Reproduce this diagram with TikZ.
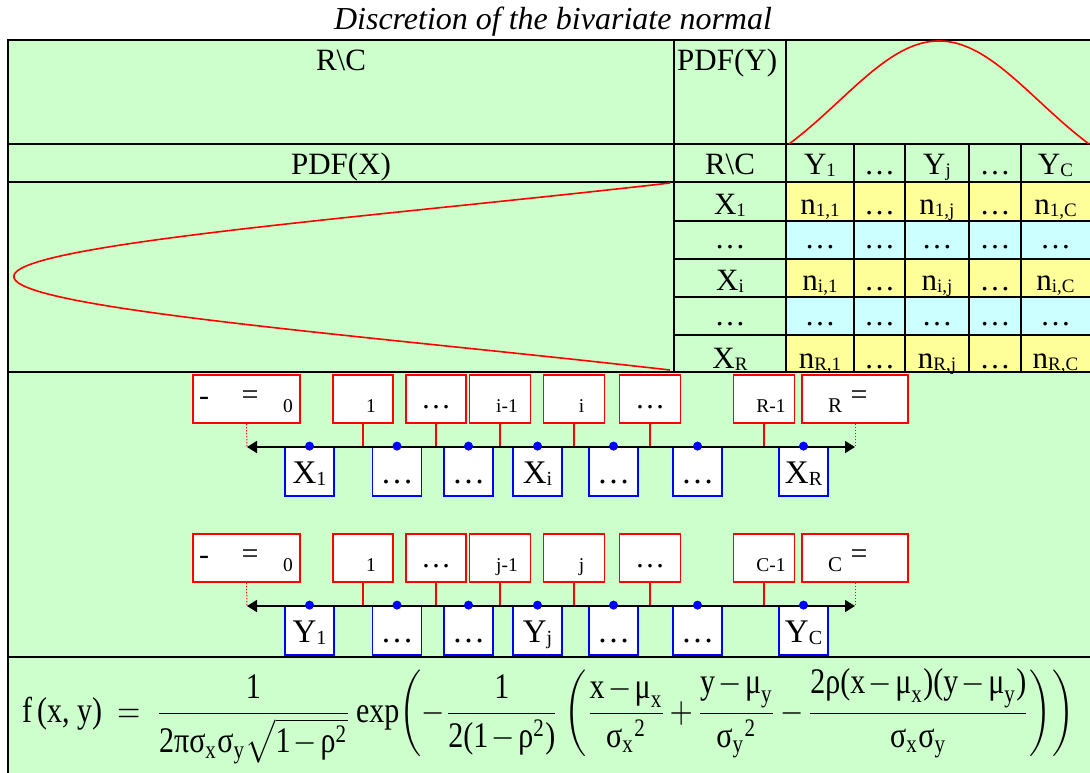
\documentclass[tikz,border=0pt]{standalone}
\usepackage{amsmath}
\usepackage{graphicx}
\usepackage{fontspec}
\setmainfont{Liberation Serif}
\usetikzlibrary{arrows.meta}
\definecolor{bg}{HTML}{CCFFCC}
\definecolor{ylw}{HTML}{FFFF99}
\definecolor{cyn}{HTML}{CCFFFF}
\definecolor{rd}{HTML}{FF0000}
\definecolor{bl}{HTML}{0000FF}
\newcommand{\sbt}[1]{\raisebox{-2pt}{\fontsize{19}{19}\selectfont #1}}
\newcommand{\sbb}[1]{\raisebox{-2pt}{\fontsize{20}{20}\selectfont #1}}
\newcommand{\tm}[1]{\text{#1}}
\tikzset{
 tline/.style={line width=2pt},
 ttxt/.style={font=\fontsize{31}{31}\selectfont, anchor=base, inner sep=0pt},
 redbox/.style={draw=rd, line width=1.8pt, fill=white, minimum height=48pt, inner sep=0pt},
 bluebox/.style={draw=bl, line width=1.8pt, fill=white, minimum width=49pt, minimum height=49pt, inner sep=0pt, text height=24pt, text depth=0pt, font=\fontsize{33}{33}\selectfont},
 smalltxt/.style={font=\fontsize{19.5}{20}\selectfont, anchor=base, inner sep=0pt},
 bigtxt/.style={font=\fontsize{30}{30}\selectfont, inner sep=0pt},
 conn/.style={draw=rd, line width=2pt},
 dotconn/.style={draw=rd, line width=1pt, dash pattern=on 1.5pt off 1.5pt},
 axisline/.style={line width=1.6pt, {Triangle[length=10pt,width=12pt]}-{Triangle[length=10pt,width=12pt]}},
 bdot/.style={circle, fill=bl, inner sep=0pt, minimum size=9pt},
 curve/.style={draw=rd, line width=1.6pt},
}
\begin{document}
\begin{tikzpicture}[x=1pt,y=-1pt]
\useasboundingbox (0,0) rectangle (1090,772);
\fill[white] (0,0) rectangle (1090,772);
\fill[bg] (8,40) rectangle (1092,774);
% coloured cells
\fill[ylw] (786,182) rectangle (1092,221);
\fill[cyn] (786,221) rectangle (1092,259);
\fill[ylw] (786,259) rectangle (1092,297);
\fill[cyn] (786,297) rectangle (1092,335);
\fill[ylw] (786,335) rectangle (1092,372);
% title
\node[font=\fontsize{32}{32}\selectfont\itshape, anchor=base, inner sep=0pt] (title) at (553,29) {Discretion of the bivariate normal};
% grid
\draw[tline, line width=2.4pt] (1092,40) -- (8,40) -- (8,774);
\draw[tline] (8,144) -- (1092,144);
\draw[line width=1.2pt] (8,182) -- (674,182);
\draw[tline] (674,182) -- (1092,182);
\foreach \yy in {221,259,297,335} \draw[tline] (674,\yy) -- (1092,\yy);
\draw[tline, line width=2.6pt] (8,372) -- (1092,372);
\draw[tline, line width=2.6pt] (8,657) -- (1092,657);
\draw[tline] (674,40) -- (674,372);
\draw[tline] (786,40) -- (786,372);
\foreach \xx in {854,905,969,1021} \draw[tline] (\xx,144) -- (\xx,372);
% curves
\draw[curve] plot[domain=-150:150, samples=81, smooth] ({939+\x}, {144-103*(exp(-0.5*(\x/100)*(\x/100))-0.3247)/0.6753});
\draw[curve] plot[domain=-93.5:93.5, samples=101, smooth] ({670-656*(exp(-0.5*(\x/70)*(\x/70))-0.4098)/0.5902}, {276.5+\x});
% header texts
\node[ttxt] (rcTop) at (341,70) {R\textbackslash C};
\node[ttxt, anchor=base west] (pdfy) at (677,70) {PDF(Y)};
\node[ttxt] (pdfx) at (341,174) {PDF(X)};
\node[ttxt] (rc) at (730,174) {R\textbackslash C};
\node[ttxt] (hy1) at (820,174) {Y\sbt{1}};
\node[ttxt] (hy2) at (879.5,174) {…};
\node[ttxt] (hy3) at (937,174) {Y\sbt{j}};
\node[ttxt] (hy4) at (995,174) {…};
\node[ttxt] (hy5) at (1055.5,174) {Y\sbt{C}};
% row labels
\node[ttxt] (rx1) at (730,214) {X\sbt{1}};
\node[ttxt] (rx2) at (730,248.5) {…};
\node[ttxt] (rx3) at (730,290) {X\sbt{i}};
\node[ttxt] (rx4) at (730,325) {…};
\node[ttxt] (rx5) at (730,368) {X\sbt{R}};
% cells
\foreach \ry/\rs in {214/1, 290/i, 368/R}{
  \node[ttxt] (c\rs a) at (820,\ry) {n\sbt{\rs,1}};
  \node[ttxt] (c\rs b) at (879.5,\ry) {…};
  \node[ttxt] (c\rs c) at (937,\ry) {n\sbt{\rs,j}};
  \node[ttxt] (c\rs d) at (995,\ry) {…};
  \node[ttxt] (c\rs e) at (1055.5,\ry) {n\sbt{\rs,C}};
}
\foreach \ry/\rs in {248.5/p, 325/q}{
  \foreach \cx/\cn in {820/a, 879.5/b, 937/c, 995/d, 1055.5/e}{
    \node[ttxt] (d\rs\cn) at (\cx,\ry) {…};
  }
}
% discretisation rows
\foreach \rw/\dy/\LL/\vv/\NN in {1/0/X/i/R, 2/159/Y/j/C}{
  \node[redbox, minimum width=107pt] (r\rw0) at (246.5,399+\dy) {};
  \node[redbox, minimum width=60pt] (r\rw1) at (363,399+\dy) {};
  \node[redbox, minimum width=60pt] (r\rw2) at (436,399+\dy) {};
  \node[redbox, minimum width=61pt] (r\rw3) at (500,399+\dy) {};
  \node[redbox, minimum width=61pt] (r\rw4) at (574,399+\dy) {};
  \node[redbox, minimum width=61pt] (r\rw5) at (650,399+\dy) {};
  \node[redbox, minimum width=61pt] (r\rw6) at (764,399+\dy) {};
  \node[redbox, minimum width=106pt] (r\rw7) at (855,399+\dy) {};
  \node[bigtxt] (t\rw0a) at (204,401.5+\dy) {-};
  \node[bigtxt] (t\rw0b) at (250,398+\dy) {=};
  \node[smalltxt] (t\rw0c) at (288,412+\dy) {0};
  \node[smalltxt] (t\rw1) at (371,412+\dy) {1};
  \node[bigtxt, anchor=base] (t\rw2) at (436,408+\dy) {…};
  \node[smalltxt] (t\rw3) at (507,412+\dy) {\vv-1};
  \node[smalltxt] (t\rw4) at (581.5,412+\dy) {\vv};
  \node[bigtxt, anchor=base] (t\rw5) at (650,408+\dy) {…};
  \node[smalltxt] (t\rw6) at (771,412+\dy) {\NN-1};
  \node[smalltxt, font=\fontsize{21}{21}\selectfont] (t\rw7a) at (835,412+\dy) {\NN};
  \node[bigtxt] (t\rw7b) at (859,398+\dy) {=};
  \coordinate (al\rw) at (247,447+\dy);
  \coordinate (ar\rw) at (855,447+\dy);
  \node[bluebox] (b\rw1) at (309.5,471.5+\dy) {\LL\sbb{1}};
  \node[bluebox] (b\rw2) at (397,471.5+\dy) {…};
  \node[bluebox] (b\rw3) at (468.5,471.5+\dy) {…};
  \node[bluebox] (b\rw4) at (537.5,471.5+\dy) {\LL\sbb{\vv}};
  \node[bluebox] (b\rw5) at (613.5,471.5+\dy) {…};
  \node[bluebox] (b\rw6) at (697.5,471.5+\dy) {…};
  \node[bluebox] (b\rw7) at (803.5,471.5+\dy) {\LL\sbb{\NN}};
  \foreach \k in {1,...,6}{
    \draw[conn] (r\rw\k.south) -- (r\rw\k.south |- al\rw);
  }
  \draw[dotconn] (r\rw0.south) -- (al\rw);
  \draw[dotconn] (r\rw7.south) -- (ar\rw);
  \draw[axisline] (al\rw) -- (ar\rw);
  \foreach \k in {1,...,7}{
    \node[bdot] (d\rw\k) at (b\rw\k.north) {};
  }
}
% formula
\node[anchor=west, inner sep=0pt] (fml) at (22,716) {\scalebox{3.0}[3.6]{\fontsize{10}{12}\selectfont\medmuskip=2mu\thickmuskip=9mu$\displaystyle
\tm{f\,(x, y)} = \frac{\tm{1}}{\tm{2πσ}_{\tm{x}}\tm{σ}_{\tm{y}}\sqrt{\tm{1}-\tm{ρ}^{\tm{2}}}}\,\tm{exp}\!\left(-\frac{\tm{1}}{\tm{2(1}-\tm{ρ}^{\tm{2}}\tm{)}}\left(\frac{\tm{x}-\tm{μ}_{\tm{x}}}{{\tm{σ}_{\tm{x}}}^{\tm{2}}}+\frac{\tm{y}-\tm{μ}_{\tm{y}}}{{\tm{σ}_{\tm{y}}}^{\tm{2}}}-\frac{\tm{2ρ(x}-\tm{μ}_{\tm{x}}\tm{)(y}-\tm{μ}_{\tm{y}}\tm{)}}{\tm{σ}_{\tm{x}}\tm{σ}_{\tm{y}}}\right)\right)$}};
\end{tikzpicture}
\end{document}
